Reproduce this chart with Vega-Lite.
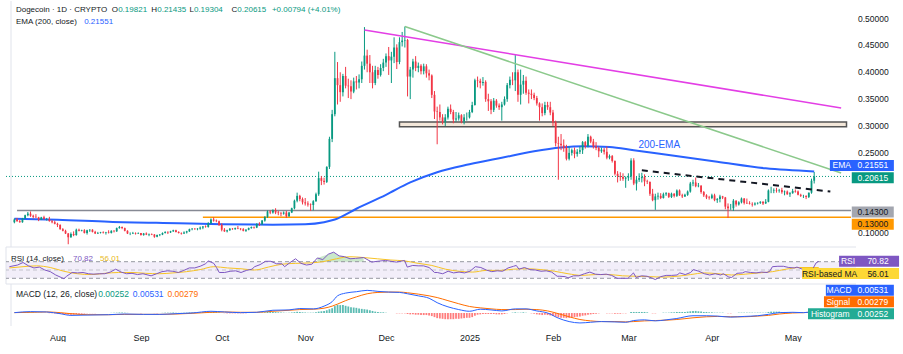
{
"$schema":"https://vega.github.io/schema/vega-lite/v6.json",
"background":"white",
"padding":{"left":5,"top":0,"right":0,"bottom":0},
"spacing":0,
"bounds":"flush",
"data":{"values":[{}]},
"config":{"font":"Liberation Sans","view":{"stroke":null},"text":{"font":"Liberation Sans","fontSize":8.5},"axisY":{"disable":true},"axis":{"labelFont":"Liberation Sans","labelFontSize":8.5,"labelColor":"#131722","grid":false,"ticks":false,"domain":false}},
"datasets":{
"ticks":[{"p":0.1},{"p":0.25},{"p":0.3},{"p":0.35},{"p":0.4},{"p":0.45},{"p":0.5}],
"px":[
{"d":"2024-07-16","o":0.121,"h":0.128,"l":0.119,"c":0.126,"m":0},
{"d":"2024-07-17","o":0.126,"h":0.129,"l":0.122,"c":0.123,"m":0.0005},
{"d":"2024-07-18","o":0.123,"h":0.125,"l":0.120,"c":0.121,"m":0.0005},
{"d":"2024-07-19","o":0.121,"h":0.129,"l":0.120,"c":0.128,"m":0.001},
{"d":"2024-07-20","o":0.128,"h":0.135,"l":0.127,"c":0.134,"m":0.0015},
{"d":"2024-07-21","o":0.134,"h":0.140,"l":0.132,"c":0.137,"m":0.002},
{"d":"2024-07-22","o":0.137,"h":0.141,"l":0.131,"c":0.133,"m":0.002},
{"d":"2024-07-23","o":0.133,"h":0.135,"l":0.128,"c":0.131,"m":0.0015},
{"d":"2024-07-24","o":0.131,"h":0.136,"l":0.129,"c":0.130,"m":0.001},
{"d":"2024-07-25","o":0.130,"h":0.131,"l":0.123,"c":0.126,"m":0.0005},
{"d":"2024-07-26","o":0.126,"h":0.131,"l":0.125,"c":0.130,"m":0.0005},
{"d":"2024-07-27","o":0.130,"h":0.133,"l":0.126,"c":0.127,"m":0},
{"d":"2024-07-28","o":0.127,"h":0.129,"l":0.124,"c":0.127,"m":0},
{"d":"2024-07-29","o":0.127,"h":0.131,"l":0.122,"c":0.123,"m":-0.0005},
{"d":"2024-07-30","o":0.123,"h":0.125,"l":0.119,"c":0.121,"m":-0.001},
{"d":"2024-07-31","o":0.121,"h":0.124,"l":0.117,"c":0.118,"m":-0.0015},
{"d":"2024-08-01","o":0.118,"h":0.120,"l":0.112,"c":0.116,"m":-0.002},
{"d":"2024-08-02","o":0.116,"h":0.117,"l":0.107,"c":0.108,"m":-0.003},
{"d":"2024-08-03","o":0.108,"h":0.110,"l":0.104,"c":0.105,"m":-0.0035},
{"d":"2024-08-04","o":0.105,"h":0.107,"l":0.099,"c":0.100,"m":-0.004},
{"d":"2024-08-05","o":0.100,"h":0.101,"l":0.080,"c":0.093,"m":-0.005},
{"d":"2024-08-06","o":0.093,"h":0.102,"l":0.092,"c":0.099,"m":-0.005},
{"d":"2024-08-07","o":0.099,"h":0.104,"l":0.095,"c":0.097,"m":-0.0045},
{"d":"2024-08-08","o":0.097,"h":0.109,"l":0.096,"c":0.107,"m":-0.003},
{"d":"2024-08-09","o":0.107,"h":0.109,"l":0.104,"c":0.105,"m":-0.0025},
{"d":"2024-08-10","o":0.105,"h":0.107,"l":0.104,"c":0.106,"m":-0.002},
{"d":"2024-08-11","o":0.106,"h":0.108,"l":0.100,"c":0.101,"m":-0.0015},
{"d":"2024-08-12","o":0.101,"h":0.107,"l":0.098,"c":0.106,"m":-0.001},
{"d":"2024-08-13","o":0.106,"h":0.108,"l":0.103,"c":0.107,"m":-0.0005},
{"d":"2024-08-14","o":0.107,"h":0.108,"l":0.102,"c":0.103,"m":-0.0005},
{"d":"2024-08-15","o":0.103,"h":0.105,"l":0.099,"c":0.100,"m":-0.0005},
{"d":"2024-08-16","o":0.100,"h":0.103,"l":0.099,"c":0.101,"m":0},
{"d":"2024-08-17","o":0.101,"h":0.103,"l":0.100,"c":0.102,"m":0},
{"d":"2024-08-18","o":0.102,"h":0.104,"l":0.100,"c":0.101,"m":0},
{"d":"2024-08-19","o":0.101,"h":0.103,"l":0.098,"c":0.102,"m":0},
{"d":"2024-08-20","o":0.102,"h":0.106,"l":0.100,"c":0.101,"m":0},
{"d":"2024-08-21","o":0.101,"h":0.106,"l":0.100,"c":0.105,"m":0.0005},
{"d":"2024-08-22","o":0.105,"h":0.106,"l":0.102,"c":0.104,"m":0.0005},
{"d":"2024-08-23","o":0.104,"h":0.111,"l":0.103,"c":0.110,"m":0.001},
{"d":"2024-08-24","o":0.110,"h":0.114,"l":0.109,"c":0.112,"m":0.0015},
{"d":"2024-08-25","o":0.112,"h":0.113,"l":0.108,"c":0.110,"m":0.0015},
{"d":"2024-08-26","o":0.110,"h":0.111,"l":0.104,"c":0.105,"m":0.001},
{"d":"2024-08-27","o":0.105,"h":0.106,"l":0.099,"c":0.100,"m":0.0005},
{"d":"2024-08-28","o":0.100,"h":0.102,"l":0.097,"c":0.100,"m":0},
{"d":"2024-08-29","o":0.100,"h":0.103,"l":0.099,"c":0.101,"m":0},
{"d":"2024-08-30","o":0.101,"h":0.102,"l":0.098,"c":0.100,"m":0},
{"d":"2024-08-31","o":0.100,"h":0.102,"l":0.099,"c":0.101,"m":0},
{"d":"2024-09-01","o":0.101,"h":0.101,"l":0.096,"c":0.097,"m":-0.0005},
{"d":"2024-09-02","o":0.097,"h":0.101,"l":0.096,"c":0.100,"m":0},
{"d":"2024-09-03","o":0.100,"h":0.102,"l":0.097,"c":0.098,"m":0},
{"d":"2024-09-04","o":0.098,"h":0.100,"l":0.095,"c":0.099,"m":0},
{"d":"2024-09-05","o":0.099,"h":0.100,"l":0.097,"c":0.098,"m":0},
{"d":"2024-09-06","o":0.098,"h":0.099,"l":0.092,"c":0.094,"m":-0.0005},
{"d":"2024-09-07","o":0.094,"h":0.098,"l":0.093,"c":0.097,"m":-0.0005},
{"d":"2024-09-08","o":0.097,"h":0.099,"l":0.095,"c":0.098,"m":0},
{"d":"2024-09-09","o":0.098,"h":0.102,"l":0.097,"c":0.101,"m":0.0005},
{"d":"2024-09-10","o":0.101,"h":0.104,"l":0.100,"c":0.103,"m":0.001},
{"d":"2024-09-11","o":0.103,"h":0.104,"l":0.099,"c":0.102,"m":0.001},
{"d":"2024-09-12","o":0.102,"h":0.105,"l":0.101,"c":0.104,"m":0.001},
{"d":"2024-09-13","o":0.104,"h":0.107,"l":0.103,"c":0.106,"m":0.0015},
{"d":"2024-09-14","o":0.106,"h":0.107,"l":0.102,"c":0.103,"m":0.001},
{"d":"2024-09-15","o":0.103,"h":0.104,"l":0.100,"c":0.101,"m":0.0005},
{"d":"2024-09-16","o":0.101,"h":0.102,"l":0.098,"c":0.100,"m":0.0005},
{"d":"2024-09-17","o":0.100,"h":0.104,"l":0.099,"c":0.102,"m":0.0005},
{"d":"2024-09-18","o":0.102,"h":0.105,"l":0.100,"c":0.104,"m":0.001},
{"d":"2024-09-19","o":0.104,"h":0.109,"l":0.103,"c":0.108,"m":0.0015},
{"d":"2024-09-20","o":0.108,"h":0.110,"l":0.106,"c":0.109,"m":0.0015},
{"d":"2024-09-21","o":0.109,"h":0.110,"l":0.107,"c":0.108,"m":0.0015},
{"d":"2024-09-22","o":0.108,"h":0.110,"l":0.106,"c":0.109,"m":0.0015},
{"d":"2024-09-23","o":0.109,"h":0.113,"l":0.107,"c":0.111,"m":0.0015},
{"d":"2024-09-24","o":0.111,"h":0.114,"l":0.108,"c":0.113,"m":0.002},
{"d":"2024-09-25","o":0.113,"h":0.115,"l":0.111,"c":0.112,"m":0.002},
{"d":"2024-09-26","o":0.112,"h":0.121,"l":0.111,"c":0.119,"m":0.0025},
{"d":"2024-09-27","o":0.119,"h":0.128,"l":0.118,"c":0.126,"m":0.003},
{"d":"2024-09-28","o":0.126,"h":0.130,"l":0.122,"c":0.124,"m":0.003},
{"d":"2024-09-29","o":0.124,"h":0.126,"l":0.121,"c":0.123,"m":0.0025},
{"d":"2024-09-30","o":0.123,"h":0.124,"l":0.114,"c":0.116,"m":0.0015},
{"d":"2024-10-01","o":0.116,"h":0.119,"l":0.104,"c":0.107,"m":0},
{"d":"2024-10-02","o":0.107,"h":0.110,"l":0.103,"c":0.104,"m":-0.0005},
{"d":"2024-10-03","o":0.104,"h":0.107,"l":0.102,"c":0.106,"m":-0.001},
{"d":"2024-10-04","o":0.106,"h":0.110,"l":0.105,"c":0.109,"m":-0.001},
{"d":"2024-10-05","o":0.109,"h":0.110,"l":0.107,"c":0.108,"m":-0.001},
{"d":"2024-10-06","o":0.108,"h":0.111,"l":0.107,"c":0.110,"m":-0.001},
{"d":"2024-10-07","o":0.110,"h":0.114,"l":0.108,"c":0.109,"m":-0.001},
{"d":"2024-10-08","o":0.109,"h":0.110,"l":0.106,"c":0.108,"m":-0.001},
{"d":"2024-10-09","o":0.108,"h":0.110,"l":0.104,"c":0.105,"m":-0.001},
{"d":"2024-10-10","o":0.105,"h":0.108,"l":0.103,"c":0.107,"m":-0.0005},
{"d":"2024-10-11","o":0.107,"h":0.111,"l":0.106,"c":0.110,"m":0},
{"d":"2024-10-12","o":0.110,"h":0.113,"l":0.109,"c":0.112,"m":0},
{"d":"2024-10-13","o":0.112,"h":0.113,"l":0.109,"c":0.111,"m":0},
{"d":"2024-10-14","o":0.111,"h":0.119,"l":0.110,"c":0.118,"m":0.0005},
{"d":"2024-10-15","o":0.118,"h":0.121,"l":0.114,"c":0.117,"m":0.001},
{"d":"2024-10-16","o":0.117,"h":0.125,"l":0.116,"c":0.124,"m":0.0015},
{"d":"2024-10-17","o":0.124,"h":0.132,"l":0.122,"c":0.131,"m":0.002},
{"d":"2024-10-18","o":0.131,"h":0.143,"l":0.129,"c":0.141,"m":0.003},
{"d":"2024-10-19","o":0.141,"h":0.143,"l":0.136,"c":0.139,"m":0.003},
{"d":"2024-10-20","o":0.139,"h":0.145,"l":0.137,"c":0.143,"m":0.003},
{"d":"2024-10-21","o":0.143,"h":0.147,"l":0.136,"c":0.139,"m":0.0025},
{"d":"2024-10-22","o":0.139,"h":0.142,"l":0.134,"c":0.138,"m":0.002},
{"d":"2024-10-23","o":0.138,"h":0.140,"l":0.132,"c":0.137,"m":0.0015},
{"d":"2024-10-24","o":0.137,"h":0.141,"l":0.135,"c":0.139,"m":0.001},
{"d":"2024-10-25","o":0.139,"h":0.142,"l":0.129,"c":0.132,"m":0.0005},
{"d":"2024-10-26","o":0.132,"h":0.140,"l":0.131,"c":0.139,"m":0.001},
{"d":"2024-10-27","o":0.139,"h":0.148,"l":0.138,"c":0.147,"m":0.0015},
{"d":"2024-10-28","o":0.147,"h":0.163,"l":0.145,"c":0.161,"m":0.0025},
{"d":"2024-10-29","o":0.161,"h":0.176,"l":0.158,"c":0.170,"m":0.0035},
{"d":"2024-10-30","o":0.170,"h":0.172,"l":0.160,"c":0.164,"m":0.003},
{"d":"2024-10-31","o":0.164,"h":0.167,"l":0.154,"c":0.158,"m":0.002},
{"d":"2024-11-01","o":0.158,"h":0.166,"l":0.152,"c":0.156,"m":0.0015},
{"d":"2024-11-02","o":0.156,"h":0.160,"l":0.150,"c":0.154,"m":0.001},
{"d":"2024-11-03","o":0.154,"h":0.156,"l":0.142,"c":0.153,"m":0.001},
{"d":"2024-11-04","o":0.153,"h":0.162,"l":0.143,"c":0.160,"m":0.001},
{"d":"2024-11-05","o":0.160,"h":0.176,"l":0.159,"c":0.173,"m":0.002},
{"d":"2024-11-06","o":0.173,"h":0.215,"l":0.170,"c":0.203,"m":0.004},
{"d":"2024-11-07","o":0.203,"h":0.207,"l":0.190,"c":0.198,"m":0.005},
{"d":"2024-11-08","o":0.198,"h":0.204,"l":0.191,"c":0.196,"m":0.006},
{"d":"2024-11-09","o":0.196,"h":0.225,"l":0.194,"c":0.224,"m":0.008},
{"d":"2024-11-10","o":0.224,"h":0.280,"l":0.220,"c":0.276,"m":0.011},
{"d":"2024-11-11","o":0.276,"h":0.330,"l":0.270,"c":0.322,"m":0.014},
{"d":"2024-11-12","o":0.322,"h":0.438,"l":0.318,"c":0.389,"m":0.020},
{"d":"2024-11-13","o":0.389,"h":0.419,"l":0.340,"c":0.376,"m":0.024},
{"d":"2024-11-14","o":0.376,"h":0.400,"l":0.345,"c":0.363,"m":0.023},
{"d":"2024-11-15","o":0.363,"h":0.397,"l":0.355,"c":0.393,"m":0.023},
{"d":"2024-11-16","o":0.393,"h":0.410,"l":0.370,"c":0.375,"m":0.021},
{"d":"2024-11-17","o":0.375,"h":0.388,"l":0.352,"c":0.374,"m":0.019},
{"d":"2024-11-18","o":0.374,"h":0.385,"l":0.350,"c":0.364,"m":0.017},
{"d":"2024-11-19","o":0.364,"h":0.390,"l":0.361,"c":0.383,"m":0.016},
{"d":"2024-11-20","o":0.383,"h":0.393,"l":0.368,"c":0.381,"m":0.015},
{"d":"2024-11-21","o":0.381,"h":0.396,"l":0.370,"c":0.387,"m":0.013},
{"d":"2024-11-22","o":0.387,"h":0.420,"l":0.380,"c":0.412,"m":0.012},
{"d":"2024-11-23","o":0.412,"h":0.484,"l":0.405,"c":0.431,"m":0.011},
{"d":"2024-11-24","o":0.431,"h":0.442,"l":0.400,"c":0.416,"m":0.010},
{"d":"2024-11-25","o":0.416,"h":0.432,"l":0.380,"c":0.400,"m":0.008},
{"d":"2024-11-26","o":0.400,"h":0.412,"l":0.370,"c":0.380,"m":0.006},
{"d":"2024-11-27","o":0.380,"h":0.412,"l":0.376,"c":0.404,"m":0.004},
{"d":"2024-11-28","o":0.404,"h":0.410,"l":0.388,"c":0.395,"m":0.003},
{"d":"2024-11-29","o":0.395,"h":0.415,"l":0.392,"c":0.408,"m":0.002},
{"d":"2024-11-30","o":0.408,"h":0.425,"l":0.402,"c":0.418,"m":0.002},
{"d":"2024-12-01","o":0.418,"h":0.435,"l":0.410,"c":0.430,"m":0.001},
{"d":"2024-12-02","o":0.430,"h":0.447,"l":0.395,"c":0.422,"m":0},
{"d":"2024-12-03","o":0.422,"h":0.438,"l":0.380,"c":0.429,"m":0},
{"d":"2024-12-04","o":0.429,"h":0.465,"l":0.417,"c":0.446,"m":0},
{"d":"2024-12-05","o":0.446,"h":0.452,"l":0.406,"c":0.419,"m":-0.001},
{"d":"2024-12-06","o":0.419,"h":0.465,"l":0.415,"c":0.456,"m":-0.001},
{"d":"2024-12-07","o":0.456,"h":0.475,"l":0.448,"c":0.459,"m":-0.001},
{"d":"2024-12-08","o":0.459,"h":0.485,"l":0.446,"c":0.460,"m":-0.001},
{"d":"2024-12-09","o":0.460,"h":0.462,"l":0.355,"c":0.392,"m":-0.003},
{"d":"2024-12-10","o":0.392,"h":0.410,"l":0.350,"c":0.405,"m":-0.004},
{"d":"2024-12-11","o":0.405,"h":0.425,"l":0.390,"c":0.420,"m":-0.004},
{"d":"2024-12-12","o":0.420,"h":0.430,"l":0.402,"c":0.408,"m":-0.005},
{"d":"2024-12-13","o":0.408,"h":0.418,"l":0.400,"c":0.412,"m":-0.005},
{"d":"2024-12-14","o":0.412,"h":0.415,"l":0.396,"c":0.402,"m":-0.006},
{"d":"2024-12-15","o":0.402,"h":0.416,"l":0.396,"c":0.411,"m":-0.006},
{"d":"2024-12-16","o":0.411,"h":0.415,"l":0.390,"c":0.398,"m":-0.006},
{"d":"2024-12-17","o":0.398,"h":0.405,"l":0.385,"c":0.394,"m":-0.007},
{"d":"2024-12-18","o":0.394,"h":0.396,"l":0.352,"c":0.358,"m":-0.009},
{"d":"2024-12-19","o":0.358,"h":0.365,"l":0.313,"c":0.327,"m":-0.012},
{"d":"2024-12-20","o":0.327,"h":0.336,"l":0.266,"c":0.326,"m":-0.015},
{"d":"2024-12-21","o":0.326,"h":0.340,"l":0.310,"c":0.316,"m":-0.016},
{"d":"2024-12-22","o":0.316,"h":0.322,"l":0.303,"c":0.308,"m":-0.017},
{"d":"2024-12-23","o":0.308,"h":0.322,"l":0.300,"c":0.316,"m":-0.018},
{"d":"2024-12-24","o":0.316,"h":0.336,"l":0.312,"c":0.332,"m":-0.018},
{"d":"2024-12-25","o":0.332,"h":0.340,"l":0.322,"c":0.326,"m":-0.018},
{"d":"2024-12-26","o":0.326,"h":0.330,"l":0.305,"c":0.312,"m":-0.018},
{"d":"2024-12-27","o":0.312,"h":0.326,"l":0.308,"c":0.314,"m":-0.017},
{"d":"2024-12-28","o":0.314,"h":0.325,"l":0.310,"c":0.320,"m":-0.017},
{"d":"2024-12-29","o":0.320,"h":0.322,"l":0.305,"c":0.309,"m":-0.016},
{"d":"2024-12-30","o":0.309,"h":0.322,"l":0.303,"c":0.316,"m":-0.015},
{"d":"2024-12-31","o":0.316,"h":0.325,"l":0.310,"c":0.316,"m":-0.014},
{"d":"2025-01-01","o":0.316,"h":0.330,"l":0.314,"c":0.326,"m":-0.014},
{"d":"2025-01-02","o":0.326,"h":0.345,"l":0.324,"c":0.339,"m":-0.012},
{"d":"2025-01-03","o":0.339,"h":0.388,"l":0.338,"c":0.385,"m":-0.008},
{"d":"2025-01-04","o":0.385,"h":0.392,"l":0.372,"c":0.384,"m":-0.005},
{"d":"2025-01-05","o":0.384,"h":0.388,"l":0.370,"c":0.380,"m":-0.004},
{"d":"2025-01-06","o":0.380,"h":0.391,"l":0.375,"c":0.382,"m":-0.003},
{"d":"2025-01-07","o":0.382,"h":0.385,"l":0.345,"c":0.350,"m":-0.003},
{"d":"2025-01-08","o":0.350,"h":0.360,"l":0.328,"c":0.346,"m":-0.003},
{"d":"2025-01-09","o":0.346,"h":0.350,"l":0.322,"c":0.330,"m":-0.003},
{"d":"2025-01-10","o":0.330,"h":0.352,"l":0.326,"c":0.347,"m":-0.003},
{"d":"2025-01-11","o":0.347,"h":0.350,"l":0.334,"c":0.338,"m":-0.004},
{"d":"2025-01-12","o":0.338,"h":0.342,"l":0.330,"c":0.335,"m":-0.004},
{"d":"2025-01-13","o":0.335,"h":0.345,"l":0.310,"c":0.340,"m":-0.004},
{"d":"2025-01-14","o":0.340,"h":0.355,"l":0.338,"c":0.350,"m":-0.003},
{"d":"2025-01-15","o":0.350,"h":0.380,"l":0.345,"c":0.376,"m":-0.001},
{"d":"2025-01-16","o":0.376,"h":0.392,"l":0.370,"c":0.386,"m":0},
{"d":"2025-01-17","o":0.386,"h":0.400,"l":0.376,"c":0.385,"m":0.001},
{"d":"2025-01-18","o":0.385,"h":0.432,"l":0.365,"c":0.400,"m":0.002},
{"d":"2025-01-19","o":0.400,"h":0.405,"l":0.345,"c":0.358,"m":0.001},
{"d":"2025-01-20","o":0.358,"h":0.405,"l":0.340,"c":0.377,"m":0.001},
{"d":"2025-01-21","o":0.377,"h":0.395,"l":0.360,"c":0.384,"m":0.002},
{"d":"2025-01-22","o":0.384,"h":0.392,"l":0.358,"c":0.362,"m":0.001},
{"d":"2025-01-23","o":0.362,"h":0.368,"l":0.342,"c":0.360,"m":0},
{"d":"2025-01-24","o":0.360,"h":0.368,"l":0.350,"c":0.358,"m":-0.001},
{"d":"2025-01-25","o":0.358,"h":0.362,"l":0.348,"c":0.352,"m":-0.002},
{"d":"2025-01-26","o":0.352,"h":0.356,"l":0.338,"c":0.342,"m":-0.004},
{"d":"2025-01-27","o":0.342,"h":0.344,"l":0.310,"c":0.335,"m":-0.005},
{"d":"2025-01-28","o":0.335,"h":0.342,"l":0.318,"c":0.324,"m":-0.006},
{"d":"2025-01-29","o":0.324,"h":0.345,"l":0.320,"c":0.339,"m":-0.005},
{"d":"2025-01-30","o":0.339,"h":0.345,"l":0.330,"c":0.335,"m":-0.006},
{"d":"2025-01-31","o":0.335,"h":0.345,"l":0.320,"c":0.325,"m":-0.007},
{"d":"2025-02-01","o":0.325,"h":0.330,"l":0.300,"c":0.307,"m":-0.009},
{"d":"2025-02-02","o":0.307,"h":0.310,"l":0.262,"c":0.268,"m":-0.011},
{"d":"2025-02-03","o":0.268,"h":0.280,"l":0.200,"c":0.267,"m":-0.013},
{"d":"2025-02-04","o":0.267,"h":0.285,"l":0.255,"c":0.264,"m":-0.014},
{"d":"2025-02-05","o":0.264,"h":0.275,"l":0.252,"c":0.259,"m":-0.014},
{"d":"2025-02-06","o":0.259,"h":0.265,"l":0.236,"c":0.239,"m":-0.015},
{"d":"2025-02-07","o":0.239,"h":0.262,"l":0.236,"c":0.250,"m":-0.014},
{"d":"2025-02-08","o":0.250,"h":0.258,"l":0.245,"c":0.255,"m":-0.013},
{"d":"2025-02-09","o":0.255,"h":0.260,"l":0.240,"c":0.248,"m":-0.012},
{"d":"2025-02-10","o":0.248,"h":0.257,"l":0.243,"c":0.252,"m":-0.011},
{"d":"2025-02-11","o":0.252,"h":0.262,"l":0.248,"c":0.255,"m":-0.010},
{"d":"2025-02-12","o":0.255,"h":0.272,"l":0.248,"c":0.270,"m":-0.008},
{"d":"2025-02-13","o":0.270,"h":0.272,"l":0.258,"c":0.263,"m":-0.007},
{"d":"2025-02-14","o":0.263,"h":0.285,"l":0.260,"c":0.280,"m":-0.005},
{"d":"2025-02-15","o":0.280,"h":0.282,"l":0.268,"c":0.271,"m":-0.004},
{"d":"2025-02-16","o":0.271,"h":0.276,"l":0.258,"c":0.262,"m":-0.003},
{"d":"2025-02-17","o":0.262,"h":0.270,"l":0.255,"c":0.259,"m":-0.002},
{"d":"2025-02-18","o":0.259,"h":0.262,"l":0.242,"c":0.253,"m":-0.001},
{"d":"2025-02-19","o":0.253,"h":0.260,"l":0.250,"c":0.256,"m":0},
{"d":"2025-02-20","o":0.256,"h":0.259,"l":0.247,"c":0.252,"m":0},
{"d":"2025-02-21","o":0.252,"h":0.262,"l":0.238,"c":0.241,"m":-0.001},
{"d":"2025-02-22","o":0.241,"h":0.247,"l":0.238,"c":0.244,"m":-0.001},
{"d":"2025-02-23","o":0.244,"h":0.246,"l":0.232,"c":0.235,"m":-0.001},
{"d":"2025-02-24","o":0.235,"h":0.236,"l":0.208,"c":0.211,"m":-0.002},
{"d":"2025-02-25","o":0.211,"h":0.216,"l":0.195,"c":0.207,"m":-0.002},
{"d":"2025-02-26","o":0.207,"h":0.214,"l":0.198,"c":0.205,"m":-0.002},
{"d":"2025-02-27","o":0.205,"h":0.212,"l":0.198,"c":0.202,"m":-0.001},
{"d":"2025-02-28","o":0.202,"h":0.206,"l":0.185,"c":0.204,"m":-0.001},
{"d":"2025-03-01","o":0.204,"h":0.212,"l":0.198,"c":0.206,"m":0},
{"d":"2025-03-02","o":0.206,"h":0.240,"l":0.200,"c":0.236,"m":0.003},
{"d":"2025-03-03","o":0.236,"h":0.240,"l":0.190,"c":0.193,"m":0.003},
{"d":"2025-03-04","o":0.193,"h":0.205,"l":0.180,"c":0.200,"m":0.003},
{"d":"2025-03-05","o":0.200,"h":0.212,"l":0.196,"c":0.203,"m":0.003},
{"d":"2025-03-06","o":0.203,"h":0.213,"l":0.195,"c":0.205,"m":0.003},
{"d":"2025-03-07","o":0.205,"h":0.210,"l":0.188,"c":0.197,"m":0.003},
{"d":"2025-03-08","o":0.197,"h":0.200,"l":0.192,"c":0.196,"m":0.002},
{"d":"2025-03-09","o":0.196,"h":0.197,"l":0.170,"c":0.174,"m":0},
{"d":"2025-03-10","o":0.174,"h":0.183,"l":0.160,"c":0.162,"m":-0.001},
{"d":"2025-03-11","o":0.162,"h":0.174,"l":0.144,"c":0.169,"m":-0.001},
{"d":"2025-03-12","o":0.169,"h":0.176,"l":0.163,"c":0.170,"m":0},
{"d":"2025-03-13","o":0.170,"h":0.175,"l":0.164,"c":0.166,"m":0},
{"d":"2025-03-14","o":0.166,"h":0.176,"l":0.165,"c":0.173,"m":0.001},
{"d":"2025-03-15","o":0.173,"h":0.177,"l":0.170,"c":0.175,"m":0.001},
{"d":"2025-03-16","o":0.175,"h":0.176,"l":0.166,"c":0.168,"m":0.001},
{"d":"2025-03-17","o":0.168,"h":0.176,"l":0.166,"c":0.174,"m":0.002},
{"d":"2025-03-18","o":0.174,"h":0.175,"l":0.167,"c":0.170,"m":0.002},
{"d":"2025-03-19","o":0.170,"h":0.182,"l":0.168,"c":0.180,"m":0.003},
{"d":"2025-03-20","o":0.180,"h":0.182,"l":0.170,"c":0.171,"m":0.003},
{"d":"2025-03-21","o":0.171,"h":0.174,"l":0.166,"c":0.169,"m":0.003},
{"d":"2025-03-22","o":0.169,"h":0.174,"l":0.168,"c":0.172,"m":0.003},
{"d":"2025-03-23","o":0.172,"h":0.180,"l":0.170,"c":0.178,"m":0.004},
{"d":"2025-03-24","o":0.178,"h":0.196,"l":0.176,"c":0.193,"m":0.005},
{"d":"2025-03-25","o":0.193,"h":0.200,"l":0.188,"c":0.195,"m":0.006},
{"d":"2025-03-26","o":0.195,"h":0.204,"l":0.186,"c":0.188,"m":0.006},
{"d":"2025-03-27","o":0.188,"h":0.194,"l":0.186,"c":0.189,"m":0.005},
{"d":"2025-03-28","o":0.189,"h":0.190,"l":0.174,"c":0.177,"m":0.004},
{"d":"2025-03-29","o":0.177,"h":0.179,"l":0.168,"c":0.171,"m":0.003},
{"d":"2025-03-30","o":0.171,"h":0.173,"l":0.164,"c":0.167,"m":0.003},
{"d":"2025-03-31","o":0.167,"h":0.170,"l":0.163,"c":0.166,"m":0.002},
{"d":"2025-04-01","o":0.166,"h":0.174,"l":0.164,"c":0.171,"m":0.002},
{"d":"2025-04-02","o":0.171,"h":0.174,"l":0.160,"c":0.162,"m":0.001},
{"d":"2025-04-03","o":0.162,"h":0.166,"l":0.157,"c":0.164,"m":0.001},
{"d":"2025-04-04","o":0.164,"h":0.172,"l":0.158,"c":0.169,"m":0.001},
{"d":"2025-04-05","o":0.169,"h":0.170,"l":0.164,"c":0.167,"m":0.001},
{"d":"2025-04-06","o":0.167,"h":0.168,"l":0.145,"c":0.150,"m":0},
{"d":"2025-04-07","o":0.150,"h":0.156,"l":0.129,"c":0.147,"m":-0.001},
{"d":"2025-04-08","o":0.147,"h":0.155,"l":0.144,"c":0.147,"m":-0.001},
{"d":"2025-04-09","o":0.147,"h":0.164,"l":0.142,"c":0.161,"m":0},
{"d":"2025-04-10","o":0.161,"h":0.162,"l":0.150,"c":0.154,"m":0},
{"d":"2025-04-11","o":0.154,"h":0.160,"l":0.152,"c":0.158,"m":0.001},
{"d":"2025-04-12","o":0.158,"h":0.167,"l":0.156,"c":0.165,"m":0.001},
{"d":"2025-04-13","o":0.165,"h":0.166,"l":0.154,"c":0.157,"m":0.001},
{"d":"2025-04-14","o":0.157,"h":0.165,"l":0.155,"c":0.156,"m":0.001},
{"d":"2025-04-15","o":0.156,"h":0.160,"l":0.154,"c":0.155,"m":0.001},
{"d":"2025-04-16","o":0.155,"h":0.158,"l":0.150,"c":0.154,"m":0.001},
{"d":"2025-04-17","o":0.154,"h":0.158,"l":0.152,"c":0.156,"m":0.001},
{"d":"2025-04-18","o":0.156,"h":0.158,"l":0.154,"c":0.157,"m":0.001},
{"d":"2025-04-19","o":0.157,"h":0.160,"l":0.155,"c":0.159,"m":0.001},
{"d":"2025-04-20","o":0.159,"h":0.160,"l":0.153,"c":0.156,"m":0.001},
{"d":"2025-04-21","o":0.156,"h":0.164,"l":0.155,"c":0.159,"m":0.001},
{"d":"2025-04-22","o":0.159,"h":0.182,"l":0.158,"c":0.180,"m":0.003},
{"d":"2025-04-23","o":0.180,"h":0.187,"l":0.175,"c":0.180,"m":0.004},
{"d":"2025-04-24","o":0.180,"h":0.184,"l":0.175,"c":0.181,"m":0.004},
{"d":"2025-04-25","o":0.181,"h":0.185,"l":0.176,"c":0.180,"m":0.004},
{"d":"2025-04-26","o":0.180,"h":0.183,"l":0.176,"c":0.181,"m":0.004},
{"d":"2025-04-27","o":0.181,"h":0.185,"l":0.174,"c":0.177,"m":0.003},
{"d":"2025-04-28","o":0.177,"h":0.180,"l":0.171,"c":0.178,"m":0.003},
{"d":"2025-04-29","o":0.178,"h":0.180,"l":0.172,"c":0.173,"m":0.002},
{"d":"2025-04-30","o":0.173,"h":0.177,"l":0.168,"c":0.175,"m":0.002},
{"d":"2025-05-01","o":0.175,"h":0.183,"l":0.174,"c":0.179,"m":0.002},
{"d":"2025-05-02","o":0.179,"h":0.182,"l":0.176,"c":0.178,"m":0.001},
{"d":"2025-05-03","o":0.178,"h":0.180,"l":0.171,"c":0.172,"m":0.001},
{"d":"2025-05-04","o":0.172,"h":0.174,"l":0.168,"c":0.170,"m":0},
{"d":"2025-05-05","o":0.170,"h":0.172,"l":0.166,"c":0.170,"m":0},
{"d":"2025-05-06","o":0.170,"h":0.171,"l":0.164,"c":0.168,"m":0},
{"d":"2025-05-07","o":0.168,"h":0.176,"l":0.166,"c":0.176,"m":0.0005},
{"d":"2025-05-08","o":0.176,"h":0.202,"l":0.174,"c":0.19821,"m":0.0015},
{"d":"2025-05-09","o":0.19821,"h":0.21435,"l":0.19304,"c":0.20615,"m":0.00252}
],
"ema":[
{"d":"2024-07-16","v":0.1275},{"d":"2024-08-01","v":0.1258},{"d":"2024-08-20","v":0.122},{"d":"2024-09-15","v":0.119},{"d":"2024-10-01","v":0.1172},{"d":"2024-10-20","v":0.1163},{"d":"2024-11-01","v":0.1172},{"d":"2024-11-08","v":0.121},{"d":"2024-11-12","v":0.126},{"d":"2024-11-20","v":0.146},{"d":"2024-12-01","v":0.172},{"d":"2024-12-10","v":0.195},{"d":"2024-12-20","v":0.214},{"d":"2025-01-01","v":0.2287},{"d":"2025-01-13","v":0.241},{"d":"2025-01-25","v":0.253},{"d":"2025-02-04","v":0.26},{"d":"2025-02-12","v":0.2625},{"d":"2025-02-22","v":0.261},{"d":"2025-03-03","v":0.255},{"d":"2025-03-16","v":0.246},{"d":"2025-04-03","v":0.2336},{"d":"2025-04-21","v":0.2213},{"d":"2025-05-09","v":0.2155}
],
"rsi":[
{"d":"2024-07-16","v":58},{"d":"2024-07-19","v":62},{"d":"2024-07-21","v":68},{"d":"2024-07-23","v":60},{"d":"2024-07-25","v":55},{"d":"2024-07-27","v":57},{"d":"2024-07-29","v":50},{"d":"2024-07-31","v":46},{"d":"2024-08-02","v":38},{"d":"2024-08-04","v":32},{"d":"2024-08-05","v":29},{"d":"2024-08-06","v":35},{"d":"2024-08-08","v":44},{"d":"2024-08-10","v":43},{"d":"2024-08-12","v":44},{"d":"2024-08-14","v":41},{"d":"2024-08-16","v":40},{"d":"2024-08-18","v":41},{"d":"2024-08-20","v":41},{"d":"2024-08-22","v":45},{"d":"2024-08-24","v":52},{"d":"2024-08-26","v":45},{"d":"2024-08-28","v":41},{"d":"2024-08-30","v":42},{"d":"2024-09-01","v":39},{"d":"2024-09-03","v":41},{"d":"2024-09-06","v":36},{"d":"2024-09-08","v":41},{"d":"2024-09-10","v":46},{"d":"2024-09-12","v":48},{"d":"2024-09-14","v":47},{"d":"2024-09-16","v":44},{"d":"2024-09-18","v":49},{"d":"2024-09-20","v":55},{"d":"2024-09-22","v":55},{"d":"2024-09-24","v":59},{"d":"2024-09-26","v":65},{"d":"2024-09-27","v":72},{"d":"2024-09-29","v":66},{"d":"2024-09-30","v":56},{"d":"2024-10-01","v":44},{"d":"2024-10-03","v":44},{"d":"2024-10-05","v":47},{"d":"2024-10-07","v":48},{"d":"2024-10-09","v":44},{"d":"2024-10-11","v":49},{"d":"2024-10-13","v":52},{"d":"2024-10-14","v":58},{"d":"2024-10-16","v":63},{"d":"2024-10-18","v":71},{"d":"2024-10-20","v":71},{"d":"2024-10-22","v":65},{"d":"2024-10-24","v":65},{"d":"2024-10-25","v":58},{"d":"2024-10-27","v":68},{"d":"2024-10-29","v":77},{"d":"2024-10-31","v":66},{"d":"2024-11-02","v":62},{"d":"2024-11-04","v":64},{"d":"2024-11-06","v":79},{"d":"2024-11-08","v":75},{"d":"2024-11-10","v":88},{"d":"2024-11-12","v":93},{"d":"2024-11-14","v":84},{"d":"2024-11-16","v":82},{"d":"2024-11-18","v":77},{"d":"2024-11-20","v":78},{"d":"2024-11-23","v":80},{"d":"2024-11-26","v":69},{"d":"2024-11-28","v":71},{"d":"2024-12-01","v":73},{"d":"2024-12-03","v":71},{"d":"2024-12-05","v":69},{"d":"2024-12-08","v":73},{"d":"2024-12-09","v":57},{"d":"2024-12-11","v":61},{"d":"2024-12-13","v":60},{"d":"2024-12-15","v":60},{"d":"2024-12-17","v":56},{"d":"2024-12-19","v":44},{"d":"2024-12-20","v":44},{"d":"2024-12-22","v":41},{"d":"2024-12-24","v":47},{"d":"2024-12-26","v":43},{"d":"2024-12-28","v":45},{"d":"2024-12-30","v":43},{"d":"2025-01-01","v":47},{"d":"2025-01-03","v":58},{"d":"2025-01-05","v":56},{"d":"2025-01-07","v":50},{"d":"2025-01-09","v":46},{"d":"2025-01-11","v":48},{"d":"2025-01-13","v":47},{"d":"2025-01-15","v":55},{"d":"2025-01-17","v":59},{"d":"2025-01-18","v":61},{"d":"2025-01-19","v":52},{"d":"2025-01-21","v":56},{"d":"2025-01-23","v":51},{"d":"2025-01-25","v":50},{"d":"2025-01-27","v":47},{"d":"2025-01-29","v":48},{"d":"2025-01-31","v":45},{"d":"2025-02-02","v":35},{"d":"2025-02-03","v":35},{"d":"2025-02-05","v":34},{"d":"2025-02-06","v":31},{"d":"2025-02-08","v":36},{"d":"2025-02-10","v":36},{"d":"2025-02-12","v":41},{"d":"2025-02-14","v":45},{"d":"2025-02-16","v":40},{"d":"2025-02-18","v":39},{"d":"2025-02-20","v":40},{"d":"2025-02-22","v":37},{"d":"2025-02-24","v":30},{"d":"2025-02-26","v":30},{"d":"2025-02-28","v":30},{"d":"2025-03-02","v":43},{"d":"2025-03-03","v":32},{"d":"2025-03-05","v":36},{"d":"2025-03-07","v":35},{"d":"2025-03-09","v":30},{"d":"2025-03-10","v":27},{"d":"2025-03-12","v":34},{"d":"2025-03-14","v":37},{"d":"2025-03-16","v":37},{"d":"2025-03-18","v":38},{"d":"2025-03-19","v":43},{"d":"2025-03-21","v":39},{"d":"2025-03-23","v":44},{"d":"2025-03-24","v":51},{"d":"2025-03-26","v":47},{"d":"2025-03-28","v":41},{"d":"2025-03-30","v":38},{"d":"2025-04-01","v":41},{"d":"2025-04-03","v":38},{"d":"2025-04-04","v":41},{"d":"2025-04-06","v":33},{"d":"2025-04-07","v":32},{"d":"2025-04-09","v":42},{"d":"2025-04-11","v":43},{"d":"2025-04-12","v":46},{"d":"2025-04-14","v":44},{"d":"2025-04-16","v":43},{"d":"2025-04-18","v":45},{"d":"2025-04-20","v":44},{"d":"2025-04-21","v":47},{"d":"2025-04-22","v":58},{"d":"2025-04-24","v":59},{"d":"2025-04-26","v":59},{"d":"2025-04-28","v":56},{"d":"2025-04-30","v":55},{"d":"2025-05-01","v":57},{"d":"2025-05-03","v":52},{"d":"2025-05-05","v":51},{"d":"2025-05-06","v":50},{"d":"2025-05-07","v":55},{"d":"2025-05-08","v":67},{"d":"2025-05-09","v":70.82}
],
"rsima":[
{"d":"2024-07-16","v":55},{"d":"2024-07-21","v":58},{"d":"2024-07-26","v":60},{"d":"2024-07-31","v":56},{"d":"2024-08-05","v":47},{"d":"2024-08-10","v":41},{"d":"2024-08-15","v":39},{"d":"2024-08-20","v":42},{"d":"2024-08-25","v":44},{"d":"2024-08-30","v":44},{"d":"2024-09-04","v":42},{"d":"2024-09-09","v":41},{"d":"2024-09-14","v":43},{"d":"2024-09-19","v":46},{"d":"2024-09-24","v":51},{"d":"2024-09-29","v":58},{"d":"2024-10-04","v":55},{"d":"2024-10-09","v":53},{"d":"2024-10-14","v":50},{"d":"2024-10-19","v":57},{"d":"2024-10-24","v":64},{"d":"2024-10-29","v":66},{"d":"2024-11-03","v":67},{"d":"2024-11-08","v":70},{"d":"2024-11-13","v":77},{"d":"2024-11-18","v":82},{"d":"2024-11-23","v":80},{"d":"2024-11-28","v":77},{"d":"2024-12-03","v":74},{"d":"2024-12-08","v":72},{"d":"2024-12-13","v":66},{"d":"2024-12-18","v":61},{"d":"2024-12-23","v":52},{"d":"2024-12-28","v":47},{"d":"2025-01-02","v":45},{"d":"2025-01-07","v":49},{"d":"2025-01-12","v":49},{"d":"2025-01-17","v":52},{"d":"2025-01-22","v":53},{"d":"2025-01-27","v":51},{"d":"2025-02-01","v":47},{"d":"2025-02-06","v":41},{"d":"2025-02-11","v":37},{"d":"2025-02-16","v":39},{"d":"2025-02-21","v":39},{"d":"2025-02-26","v":36},{"d":"2025-03-03","v":35},{"d":"2025-03-08","v":34},{"d":"2025-03-13","v":33},{"d":"2025-03-18","v":35},{"d":"2025-03-23","v":39},{"d":"2025-03-28","v":43},{"d":"2025-04-02","v":41},{"d":"2025-04-07","v":38},{"d":"2025-04-12","v":40},{"d":"2025-04-17","v":43},{"d":"2025-04-22","v":46},{"d":"2025-04-27","v":52},{"d":"2025-05-02","v":56},{"d":"2025-05-09","v":56.01}
],
"macd":[
{"d":"2024-07-16","m":0.001,"s":0.001},{"d":"2024-07-22","m":0.004,"s":0.002},{"d":"2024-07-28","m":0.003,"s":0.003},{"d":"2024-08-02","m":-0.002,"s":0.001},{"d":"2024-08-06","m":-0.007,"s":-0.002},{"d":"2024-08-12","m":-0.006,"s":-0.005},{"d":"2024-08-20","m":-0.005,"s":-0.005},{"d":"2024-08-26","m":-0.003,"s":-0.004},{"d":"2024-09-02","m":-0.004,"s":-0.004},{"d":"2024-09-08","m":-0.004,"s":-0.004},{"d":"2024-09-14","m":-0.002,"s":-0.003},{"d":"2024-09-20","m":0.0,"s":-0.001},{"d":"2024-09-27","m":0.005,"s":0.002},{"d":"2024-10-02","m":0.003,"s":0.003},{"d":"2024-10-08","m":0.001,"s":0.002},{"d":"2024-10-14","m":0.002,"s":0.002},{"d":"2024-10-20","m":0.008,"s":0.005},{"d":"2024-10-26","m":0.009,"s":0.008},{"d":"2024-10-30","m":0.013,"s":0.010},{"d":"2024-11-04","m":0.012,"s":0.011},{"d":"2024-11-08","m":0.020,"s":0.014},{"d":"2024-11-11","m":0.033,"s":0.020},{"d":"2024-11-13","m":0.050,"s":0.026},{"d":"2024-11-16","m":0.058,"s":0.036},{"d":"2024-11-20","m":0.062,"s":0.047},{"d":"2024-11-24","m":0.066,"s":0.056},{"d":"2024-11-28","m":0.063,"s":0.060},{"d":"2024-12-02","m":0.061,"s":0.061},{"d":"2024-12-06","m":0.060,"s":0.061},{"d":"2024-12-09","m":0.056,"s":0.059},{"d":"2024-12-13","m":0.050,"s":0.055},{"d":"2024-12-17","m":0.043,"s":0.050},{"d":"2024-12-20","m":0.030,"s":0.045},{"d":"2024-12-24","m":0.018,"s":0.036},{"d":"2024-12-28","m":0.010,"s":0.027},{"d":"2025-01-01","m":0.005,"s":0.019},{"d":"2025-01-05","m":0.011,"s":0.015},{"d":"2025-01-09","m":0.009,"s":0.012},{"d":"2025-01-13","m":0.006,"s":0.010},{"d":"2025-01-18","m":0.012,"s":0.010},{"d":"2025-01-22","m":0.012,"s":0.011},{"d":"2025-01-26","m":0.006,"s":0.010},{"d":"2025-01-30","m":0.000,"s":0.006},{"d":"2025-02-03","m":-0.015,"s":-0.002},{"d":"2025-02-07","m":-0.025,"s":-0.011},{"d":"2025-02-11","m":-0.029,"s":-0.019},{"d":"2025-02-15","m":-0.027,"s":-0.023},{"d":"2025-02-19","m":-0.025,"s":-0.025},{"d":"2025-02-24","m":-0.026,"s":-0.025},{"d":"2025-02-28","m":-0.027,"s":-0.026},{"d":"2025-03-03","m":-0.022,"s":-0.025},{"d":"2025-03-07","m":-0.020,"s":-0.023},{"d":"2025-03-11","m":-0.023,"s":-0.022},{"d":"2025-03-15","m":-0.020,"s":-0.021},{"d":"2025-03-19","m":-0.016,"s":-0.019},{"d":"2025-03-25","m":-0.008,"s":-0.014},{"d":"2025-03-30","m":-0.008,"s":-0.011},{"d":"2025-04-03","m":-0.009,"s":-0.010},{"d":"2025-04-08","m":-0.012,"s":-0.011},{"d":"2025-04-13","m":-0.010,"s":-0.011},{"d":"2025-04-18","m":-0.008,"s":-0.009},{"d":"2025-04-22","m":-0.004,"s":-0.007},{"d":"2025-04-26","m":0.001,"s":-0.003},{"d":"2025-05-01","m":0.002,"s":0.000},{"d":"2025-05-05","m":0.001,"s":0.001},{"d":"2025-05-09","m":0.00531,"s":0.00279}
]
},
"vconcat":[
{
"width":850,"height":246,
"layer":[
{"mark":{"type":"rule","color":"#e0e3eb"},"encoding":{"x":{"datum":{"year":2024,"month":7,"date":14,"hours":18,"utc":true},"type":"temporal","axis":null}}},
{"mark":{"type":"rule","color":"#e0e3eb"},"encoding":{"y":{"datum":0.07488,"type":"quantitative","axis":null}}},
{"data":{"name":"ticks"},"mark":{"type":"text","color":"#131722","align":"left","baseline":"middle","fontSize":8.5},"encoding":{"x":{"datum":{"year":2025,"month":5,"date":25,"hours":6,"utc":true},"type":"temporal","axis":null},"y":{"field":"p","type":"quantitative","axis":null},"text":{"field":"p","type":"quantitative","format":".5f"}}},
{"mark":{"type":"rule","color":"#089981","strokeDash":[1,2],"strokeWidth":1},"encoding":{"y":{"datum":0.20615,"type":"quantitative","axis":null}}},
{"mark":{"type":"rect","fill":"#f3e7d9","stroke":"#555555","strokeWidth":1.5},"encoding":{"x":{"datum":{"year":2024,"month":12,"date":6,"utc":true},"type":"temporal","axis":null},"x2":{"datum":{"year":2025,"month":5,"date":21,"utc":true}},"y":{"datum":0.2985,"type":"quantitative","axis":null},"y2":{"datum":0.3075}}},
{"mark":{"type":"rule","color":"#868993","strokeWidth":1.5},"encoding":{"x":{"datum":{"year":2024,"month":7,"date":17,"utc":true},"type":"temporal","axis":null},"x2":{"datum":{"year":2025,"month":5,"date":22,"hours":16,"utc":true}},"y":{"datum":0.143,"type":"quantitative","axis":null}}},
{"mark":{"type":"rule","color":"#ff9800","strokeWidth":1.5},"encoding":{"x":{"datum":{"year":2024,"month":9,"date":24,"utc":true},"type":"temporal","axis":null},"x2":{"datum":{"year":2025,"month":5,"date":22,"hours":16,"utc":true}},"y":{"datum":0.13,"type":"quantitative","axis":null}}},
{"data":{"name":"ema"},"mark":{"type":"line","color":"#2962ff","strokeWidth":2,"interpolate":"monotone"},"encoding":{"x":{"field":"d","type":"temporal","axis":null},"y":{"field":"v","type":"quantitative","axis":null}}},
{"data":{"name":"px"},"mark":{"type":"rule","strokeWidth":1},"encoding":{"x":{"field":"d","type":"temporal","scale":{"type":"utc","domain":[{"year":2024,"month":7,"date":14,"hours":18,"utc":true},{"year":2025,"month":5,"date":22,"hours":16,"utc":true}]},"axis":null},"y":{"field":"l","type":"quantitative","scale":{"domain":[0.07488,0.53256],"nice":false,"zero":false},"axis":null},"y2":{"field":"h"},"color":{"condition":{"test":"datum.c >= datum.o","value":"#089981"},"value":"#f23645"}}},
{"data":{"name":"px"},"mark":{"type":"bar","size":1.8},"encoding":{"x":{"field":"d","type":"temporal","axis":null},"y":{"field":"o","type":"quantitative","axis":null},"y2":{"field":"c"},"color":{"condition":{"test":"datum.c >= datum.o","value":"#089981"},"value":"#f23645"}}},
{"mark":{"type":"rule","color":"#e33ee5","strokeWidth":1.5},"encoding":{"x":{"datum":{"year":2024,"month":11,"date":23,"utc":true},"type":"temporal","axis":null},"x2":{"datum":{"year":2025,"month":5,"date":19,"utc":true}},"y":{"datum":0.4786,"type":"quantitative","axis":null},"y2":{"datum":0.3335}}},
{"mark":{"type":"rule","color":"#8bc98b","strokeWidth":1.5},"encoding":{"x":{"datum":{"year":2024,"month":12,"date":8,"utc":true},"type":"temporal","axis":null},"x2":{"datum":{"year":2025,"month":5,"date":19,"utc":true}},"y":{"datum":0.485,"type":"quantitative","axis":null},"y2":{"datum":0.2126}}},
{"mark":{"type":"rule","color":"#131722","strokeWidth":2,"strokeDash":[6,5]},"encoding":{"x":{"datum":{"year":2025,"month":3,"date":6,"utc":true},"type":"temporal","axis":null},"x2":{"datum":{"year":2025,"month":5,"date":15,"utc":true}},"y":{"datum":0.2176,"type":"quantitative","axis":null},"y2":{"datum":0.178}}},
{"mark":{"type":"text","color":"#2962ff","fontSize":10,"align":"center","baseline":"middle"},"encoding":{"x":{"datum":{"year":2025,"month":3,"date":12,"hours":11,"utc":true},"type":"temporal","axis":null},"y":{"datum":0.2647,"type":"quantitative","axis":null},"text":{"value":"200-EMA"}}},
{"mark":{"type":"text","color":"#131722","align":"left","baseline":"middle","fontSize":8},"encoding":{"x":{"datum":{"year":2024,"month":7,"date":16,"hours":14,"utc":true},"type":"temporal","axis":null},"y":{"datum":0.5158,"type":"quantitative","axis":null},"text":{"value":"Dogecoin · 1D · CRYPTO"}}},
{"mark":{"type":"text","color":"#131722","align":"left","baseline":"middle","fontSize":8},"encoding":{"x":{"datum":{"year":2024,"month":8,"date":21,"hours":4,"utc":true},"type":"temporal","axis":null},"y":{"datum":0.5158,"type":"quantitative","axis":null},"text":{"value":"O"}}},
{"mark":{"type":"text","color":"#089981","align":"left","baseline":"middle","fontSize":8},"encoding":{"x":{"datum":{"year":2024,"month":8,"date":23,"hours":13,"utc":true},"type":"temporal","axis":null},"y":{"datum":0.5158,"type":"quantitative","axis":null},"text":{"value":"0.19821"}}},
{"mark":{"type":"text","color":"#131722","align":"left","baseline":"middle","fontSize":8},"encoding":{"x":{"datum":{"year":2024,"month":9,"date":4,"hours":21,"utc":true},"type":"temporal","axis":null},"y":{"datum":0.5158,"type":"quantitative","axis":null},"text":{"value":"H"}}},
{"mark":{"type":"text","color":"#089981","align":"left","baseline":"middle","fontSize":8},"encoding":{"x":{"datum":{"year":2024,"month":9,"date":7,"hours":1,"utc":true},"type":"temporal","axis":null},"y":{"datum":0.5158,"type":"quantitative","axis":null},"text":{"value":"0.21435"}}},
{"mark":{"type":"text","color":"#131722","align":"left","baseline":"middle","fontSize":8},"encoding":{"x":{"datum":{"year":2024,"month":9,"date":19,"hours":0,"utc":true},"type":"temporal","axis":null},"y":{"datum":0.5158,"type":"quantitative","axis":null},"text":{"value":"L"}}},
{"mark":{"type":"text","color":"#089981","align":"left","baseline":"middle","fontSize":8},"encoding":{"x":{"datum":{"year":2024,"month":9,"date":20,"hours":16,"utc":true},"type":"temporal","axis":null},"y":{"datum":0.5158,"type":"quantitative","axis":null},"text":{"value":"0.19304"}}},
{"mark":{"type":"text","color":"#131722","align":"left","baseline":"middle","fontSize":8},"encoding":{"x":{"datum":{"year":2024,"month":10,"date":4,"hours":14,"utc":true},"type":"temporal","axis":null},"y":{"datum":0.5158,"type":"quantitative","axis":null},"text":{"value":"C"}}},
{"mark":{"type":"text","color":"#089981","align":"left","baseline":"middle","fontSize":8},"encoding":{"x":{"datum":{"year":2024,"month":10,"date":6,"hours":19,"utc":true},"type":"temporal","axis":null},"y":{"datum":0.5158,"type":"quantitative","axis":null},"text":{"value":"0.20615"}}},
{"mark":{"type":"text","color":"#089981","align":"left","baseline":"middle","fontSize":8},"encoding":{"x":{"datum":{"year":2024,"month":10,"date":19,"hours":15,"utc":true},"type":"temporal","axis":null},"y":{"datum":0.5158,"type":"quantitative","axis":null},"text":{"value":"+0.00794 (+4.01%)"}}},
{"mark":{"type":"text","color":"#131722","align":"left","baseline":"middle","fontSize":8},"encoding":{"x":{"datum":{"year":2024,"month":7,"date":16,"hours":14,"utc":true},"type":"temporal","axis":null},"y":{"datum":0.4935,"type":"quantitative","axis":null},"text":{"value":"EMA (200, close)"}}},
{"mark":{"type":"text","color":"#2962ff","align":"left","baseline":"middle","fontSize":8},"encoding":{"x":{"datum":{"year":2024,"month":8,"date":10,"hours":22,"utc":true},"type":"temporal","axis":null},"y":{"datum":0.4935,"type":"quantitative","axis":null},"text":{"value":"0.21551"}}},
{"mark":{"type":"point","shape":"M-1,-0.172H1V0.172H-1Z","size":4096,"filled":true,"opacity":1,"strokeWidth":0,"color":"#2962ff","yOffset":-6},"encoding":{"x":{"datum":{"year":2025,"month":5,"date":26,"hours":17,"utc":true},"type":"temporal","axis":null},"y":{"datum":0.21551,"type":"quantitative","axis":null}}},
{"mark":{"type":"text","color":"white","align":"center","baseline":"middle","yOffset":-6},"encoding":{"x":{"datum":{"year":2025,"month":5,"date":19,"hours":5,"utc":true},"type":"temporal","axis":null},"y":{"datum":0.21551,"type":"quantitative","axis":null},"text":{"value":"EMA"}}},
{"mark":{"type":"text","color":"white","align":"center","baseline":"middle","yOffset":-6},"encoding":{"x":{"datum":{"year":2025,"month":5,"date":30,"hours":18,"utc":true},"type":"temporal","axis":null},"y":{"datum":0.21551,"type":"quantitative","axis":null},"text":{"value":"0.21551"}}},
{"mark":{"type":"point","shape":"M-1,-0.262H1V0.262H-1Z","size":1764,"filled":true,"opacity":1,"strokeWidth":0,"color":"#089981","yOffset":1.3},"encoding":{"x":{"datum":{"year":2025,"month":5,"date":30,"hours":18,"utc":true},"type":"temporal","axis":null},"y":{"datum":0.20615,"type":"quantitative","axis":null}}},
{"mark":{"type":"text","color":"white","align":"center","baseline":"middle","yOffset":1.3},"encoding":{"x":{"datum":{"year":2025,"month":5,"date":30,"hours":18,"utc":true},"type":"temporal","axis":null},"y":{"datum":0.20615,"type":"quantitative","axis":null},"text":{"value":"0.20615"}}},
{"mark":{"type":"point","shape":"M-1,-0.262H1V0.262H-1Z","size":1764,"filled":true,"opacity":1,"strokeWidth":0,"color":"#a3a6af","yOffset":1.6},"encoding":{"x":{"datum":{"year":2025,"month":5,"date":30,"hours":18,"utc":true},"type":"temporal","axis":null},"y":{"datum":0.143,"type":"quantitative","axis":null}}},
{"mark":{"type":"text","color":"#131722","align":"center","baseline":"middle","yOffset":1.6},"encoding":{"x":{"datum":{"year":2025,"month":5,"date":30,"hours":18,"utc":true},"type":"temporal","axis":null},"y":{"datum":0.143,"type":"quantitative","axis":null},"text":{"value":"0.14300"}}},
{"mark":{"type":"point","shape":"M-1,-0.262H1V0.262H-1Z","size":1764,"filled":true,"opacity":1,"strokeWidth":0,"color":"#ff9800","yOffset":6.9},"encoding":{"x":{"datum":{"year":2025,"month":5,"date":30,"hours":18,"utc":true},"type":"temporal","axis":null},"y":{"datum":0.13,"type":"quantitative","axis":null}}},
{"mark":{"type":"text","color":"#131722","align":"center","baseline":"middle","yOffset":6.9},"encoding":{"x":{"datum":{"year":2025,"month":5,"date":30,"hours":18,"utc":true},"type":"temporal","axis":null},"y":{"datum":0.13,"type":"quantitative","axis":null},"text":{"value":"0.13000"}}}
]
},
{
"width":850,"height":37,
"layer":[
{"mark":{"type":"rect","color":"#7e57c2","opacity":0.1},"encoding":{"y":{"datum":70,"type":"quantitative","scale":{"domain":[16.3,105.4],"nice":false,"zero":false},"axis":null},"y2":{"datum":30}}},
{"mark":{"type":"rule","color":"#e0e3eb"},"encoding":{"x":{"datum":{"year":2024,"month":7,"date":14,"hours":18,"utc":true},"type":"temporal","scale":{"type":"utc","domain":[{"year":2024,"month":7,"date":14,"hours":18,"utc":true},{"year":2025,"month":5,"date":22,"hours":16,"utc":true}]},"axis":null}}},
{"mark":{"type":"rule","color":"#e0e3eb"},"encoding":{"y":{"datum":16.3,"type":"quantitative","axis":null}}},
{"data":{"name":"rsi"},"transform":[{"filter":"datum.v >= 78"}],"mark":{"type":"area","color":"#4caf50","opacity":0.3},"encoding":{"x":{"field":"d","type":"temporal","axis":null},"y":{"field":"v","type":"quantitative","axis":null},"y2":{"datum":70}}},
{"mark":{"type":"rule","color":"#9598a1","strokeDash":[4,3],"strokeWidth":1},"encoding":{"y":{"datum":70,"type":"quantitative","axis":null}}},
{"mark":{"type":"rule","color":"#9598a1","strokeDash":[4,3],"strokeWidth":1,"opacity":0.5},"encoding":{"y":{"datum":50,"type":"quantitative","axis":null}}},
{"mark":{"type":"rule","color":"#9598a1","strokeDash":[4,3],"strokeWidth":1},"encoding":{"y":{"datum":30,"type":"quantitative","axis":null}}},
{"data":{"name":"rsima"},"mark":{"type":"line","color":"#f7c325","strokeWidth":1,"interpolate":"monotone"},"encoding":{"x":{"field":"d","type":"temporal","axis":null},"y":{"field":"v","type":"quantitative","axis":null}}},
{"data":{"name":"rsi"},"mark":{"type":"line","color":"#7e57c2","strokeWidth":1},"encoding":{"x":{"field":"d","type":"temporal","axis":null},"y":{"field":"v","type":"quantitative","axis":null}}},
{"mark":{"type":"text","color":"#131722","align":"left","baseline":"middle","fontSize":8},"encoding":{"x":{"datum":{"year":2024,"month":7,"date":16,"hours":14,"utc":true},"type":"temporal","axis":null},"y":{"datum":75.8,"type":"quantitative","axis":null},"text":{"value":"RSI (14, close)"}}},
{"mark":{"type":"text","color":"#7e57c2","align":"left","baseline":"middle","fontSize":8},"encoding":{"x":{"datum":{"year":2024,"month":8,"date":8,"hours":8,"utc":true},"type":"temporal","axis":null},"y":{"datum":75.8,"type":"quantitative","axis":null},"text":{"value":"70.82"}}},
{"mark":{"type":"text","color":"#e8b923","align":"left","baseline":"middle","fontSize":8},"encoding":{"x":{"datum":{"year":2024,"month":8,"date":18,"hours":6,"utc":true},"type":"temporal","axis":null},"y":{"datum":75.8,"type":"quantitative","axis":null},"text":{"value":"56.01"}}},
{"mark":{"type":"point","shape":"M-1,-0.183H1V0.183H-1Z","size":3600,"filled":true,"opacity":1,"strokeWidth":0,"color":"#7e57c2"},"encoding":{"x":{"datum":{"year":2025,"month":5,"date":27,"hours":11,"utc":true},"type":"temporal","axis":null},"y":{"datum":70.82,"type":"quantitative","axis":null}}},
{"mark":{"type":"text","color":"white","align":"center","baseline":"middle"},"encoding":{"x":{"datum":{"year":2025,"month":5,"date":19,"hours":18,"utc":true},"type":"temporal","axis":null},"y":{"datum":70.82,"type":"quantitative","axis":null},"text":{"value":"RSI"}}},
{"mark":{"type":"text","color":"white","align":"center","baseline":"middle"},"encoding":{"x":{"datum":{"year":2025,"month":5,"date":30,"hours":18,"utc":true},"type":"temporal","axis":null},"y":{"datum":70.82,"type":"quantitative","axis":null},"text":{"value":"70.82"}}},
{"mark":{"type":"point","shape":"M-1,-0.113H1V0.113H-1Z","size":9409,"filled":true,"opacity":1,"strokeWidth":0,"color":"#fdd835","yOffset":6},"encoding":{"x":{"datum":{"year":2025,"month":5,"date":20,"hours":16,"utc":true},"type":"temporal","axis":null},"y":{"datum":56.01,"type":"quantitative","axis":null}}},
{"mark":{"type":"text","color":"#131722","align":"center","baseline":"middle","yOffset":6},"encoding":{"x":{"datum":{"year":2025,"month":5,"date":12,"hours":23,"utc":true},"type":"temporal","axis":null},"y":{"datum":56.01,"type":"quantitative","axis":null},"text":{"value":"RSI-based MA"}}},
{"mark":{"type":"text","color":"#131722","align":"center","baseline":"middle","yOffset":6},"encoding":{"x":{"datum":{"year":2025,"month":5,"date":30,"hours":18,"utc":true},"type":"temporal","axis":null},"y":{"datum":56.01,"type":"quantitative","axis":null},"text":{"value":"56.01"}}}
]
},
{
"width":850,"height":42,
"layer":[
{"mark":{"type":"rule","color":"#e0e3eb"},"encoding":{"x":{"datum":{"year":2024,"month":7,"date":14,"hours":18,"utc":true},"type":"temporal","title":null}}},
{"data":{"name":"px"},"mark":{"type":"bar","size":1.8},"encoding":{"x":{"field":"d","type":"temporal","title":null,"scale":{"type":"utc","domain":[{"year":2024,"month":7,"date":14,"hours":18,"utc":true},{"year":2025,"month":5,"date":22,"hours":16,"utc":true}]},"axis":{"values":[1722470400000,1725148800000,1727740800000,1730419200000,1733011200000,1735689600000,1738368000000,1740787200000,1743465600000,1746057600000],"labelExpr":"utcFormat(datum.value, '%m') == '01' ? utcFormat(datum.value, '%Y') : utcFormat(datum.value, '%b')","title":null,"labelPadding":7,"labelFontSize":9}},"y":{"field":"m","type":"quantitative","scale":{"domain":[-0.0379,0.0845],"nice":false,"zero":false},"axis":null},"y2":{"datum":0},"color":{"condition":{"test":"datum.m >= 0","value":"#26a69a"},"value":"#ff5252"},"opacity":{"value":0.75}}},
{"data":{"name":"macd"},"mark":{"type":"line","color":"#ff6d00","strokeWidth":1,"interpolate":"monotone"},"encoding":{"x":{"field":"d","type":"temporal","title":null},"y":{"field":"s","type":"quantitative","axis":null}}},
{"data":{"name":"macd"},"mark":{"type":"line","color":"#2962ff","strokeWidth":1,"interpolate":"monotone"},"encoding":{"x":{"field":"d","type":"temporal","title":null},"y":{"field":"m","type":"quantitative","axis":null}}},
{"mark":{"type":"text","color":"#131722","align":"left","baseline":"middle"},"encoding":{"x":{"datum":{"year":2024,"month":7,"date":16,"hours":14,"utc":true},"type":"temporal","title":null},"y":{"datum":0.0545,"type":"quantitative","axis":null},"text":{"value":"MACD (12, 26, close)"}}},
{"mark":{"type":"text","color":"#089981","align":"left","baseline":"middle"},"encoding":{"x":{"datum":{"year":2024,"month":8,"date":16,"hours":3,"utc":true},"type":"temporal","title":null},"y":{"datum":0.0545,"type":"quantitative","axis":null},"text":{"value":"0.00252"}}},
{"mark":{"type":"text","color":"#2962ff","align":"left","baseline":"middle"},"encoding":{"x":{"datum":{"year":2024,"month":8,"date":29,"hours":0,"utc":true},"type":"temporal","title":null},"y":{"datum":0.0545,"type":"quantitative","axis":null},"text":{"value":"0.00531"}}},
{"mark":{"type":"text","color":"#ff6d00","align":"left","baseline":"middle"},"encoding":{"x":{"datum":{"year":2024,"month":9,"date":10,"hours":20,"utc":true},"type":"temporal","title":null},"y":{"datum":0.0545,"type":"quantitative","axis":null},"text":{"value":"0.00279"}}},
{"mark":{"type":"point","shape":"M-1,-0.162H1V0.162H-1Z","size":4624,"filled":true,"opacity":1,"strokeWidth":0,"color":"#2962ff","yOffset":-21},"encoding":{"x":{"datum":{"year":2025,"month":5,"date":25,"hours":23,"utc":true},"type":"temporal","title":null},"y":{"datum":0.00531,"type":"quantitative","axis":null}}},
{"mark":{"type":"text","color":"white","align":"center","baseline":"middle","yOffset":-21},"encoding":{"x":{"datum":{"year":2025,"month":5,"date":18,"hours":6,"utc":true},"type":"temporal","title":null},"y":{"datum":0.00531,"type":"quantitative","axis":null},"text":{"value":"MACD"}}},
{"mark":{"type":"text","color":"white","align":"center","baseline":"middle","yOffset":-21},"encoding":{"x":{"datum":{"year":2025,"month":5,"date":30,"hours":18,"utc":true},"type":"temporal","title":null},"y":{"datum":0.00531,"type":"quantitative","axis":null},"text":{"value":"0.00531"}}},
{"mark":{"type":"point","shape":"M-1,-0.157H1V0.157H-1Z","size":4900,"filled":true,"opacity":1,"strokeWidth":0,"color":"#ff6d00","yOffset":-10.3},"encoding":{"x":{"datum":{"year":2025,"month":5,"date":25,"hours":15,"utc":true},"type":"temporal","title":null},"y":{"datum":0.00279,"type":"quantitative","axis":null}}},
{"mark":{"type":"text","color":"white","align":"center","baseline":"middle","yOffset":-10.3},"encoding":{"x":{"datum":{"year":2025,"month":5,"date":17,"hours":22,"utc":true},"type":"temporal","title":null},"y":{"datum":0.00279,"type":"quantitative","axis":null},"text":{"value":"Signal"}}},
{"mark":{"type":"text","color":"white","align":"center","baseline":"middle","yOffset":-10.3},"encoding":{"x":{"datum":{"year":2025,"month":5,"date":30,"hours":18,"utc":true},"type":"temporal","title":null},"y":{"datum":0.00279,"type":"quantitative","axis":null},"text":{"value":"0.00279"}}},
{"mark":{"type":"point","shape":"M-1,-0.128H1V0.128H-1Z","size":7396,"filled":true,"opacity":1,"strokeWidth":0,"color":"#22ab94","yOffset":1.6},"encoding":{"x":{"datum":{"year":2025,"month":5,"date":22,"hours":16,"utc":true},"type":"temporal","title":null},"y":{"datum":0.00252,"type":"quantitative","axis":null}}},
{"mark":{"type":"text","color":"white","align":"center","baseline":"middle","yOffset":1.6},"encoding":{"x":{"datum":{"year":2025,"month":5,"date":14,"hours":23,"utc":true},"type":"temporal","title":null},"y":{"datum":0.00252,"type":"quantitative","axis":null},"text":{"value":"Histogram"}}},
{"mark":{"type":"text","color":"white","align":"center","baseline":"middle","yOffset":1.6},"encoding":{"x":{"datum":{"year":2025,"month":5,"date":30,"hours":18,"utc":true},"type":"temporal","title":null},"y":{"datum":0.00252,"type":"quantitative","axis":null},"text":{"value":"0.00252"}}}
]
}
]
}
